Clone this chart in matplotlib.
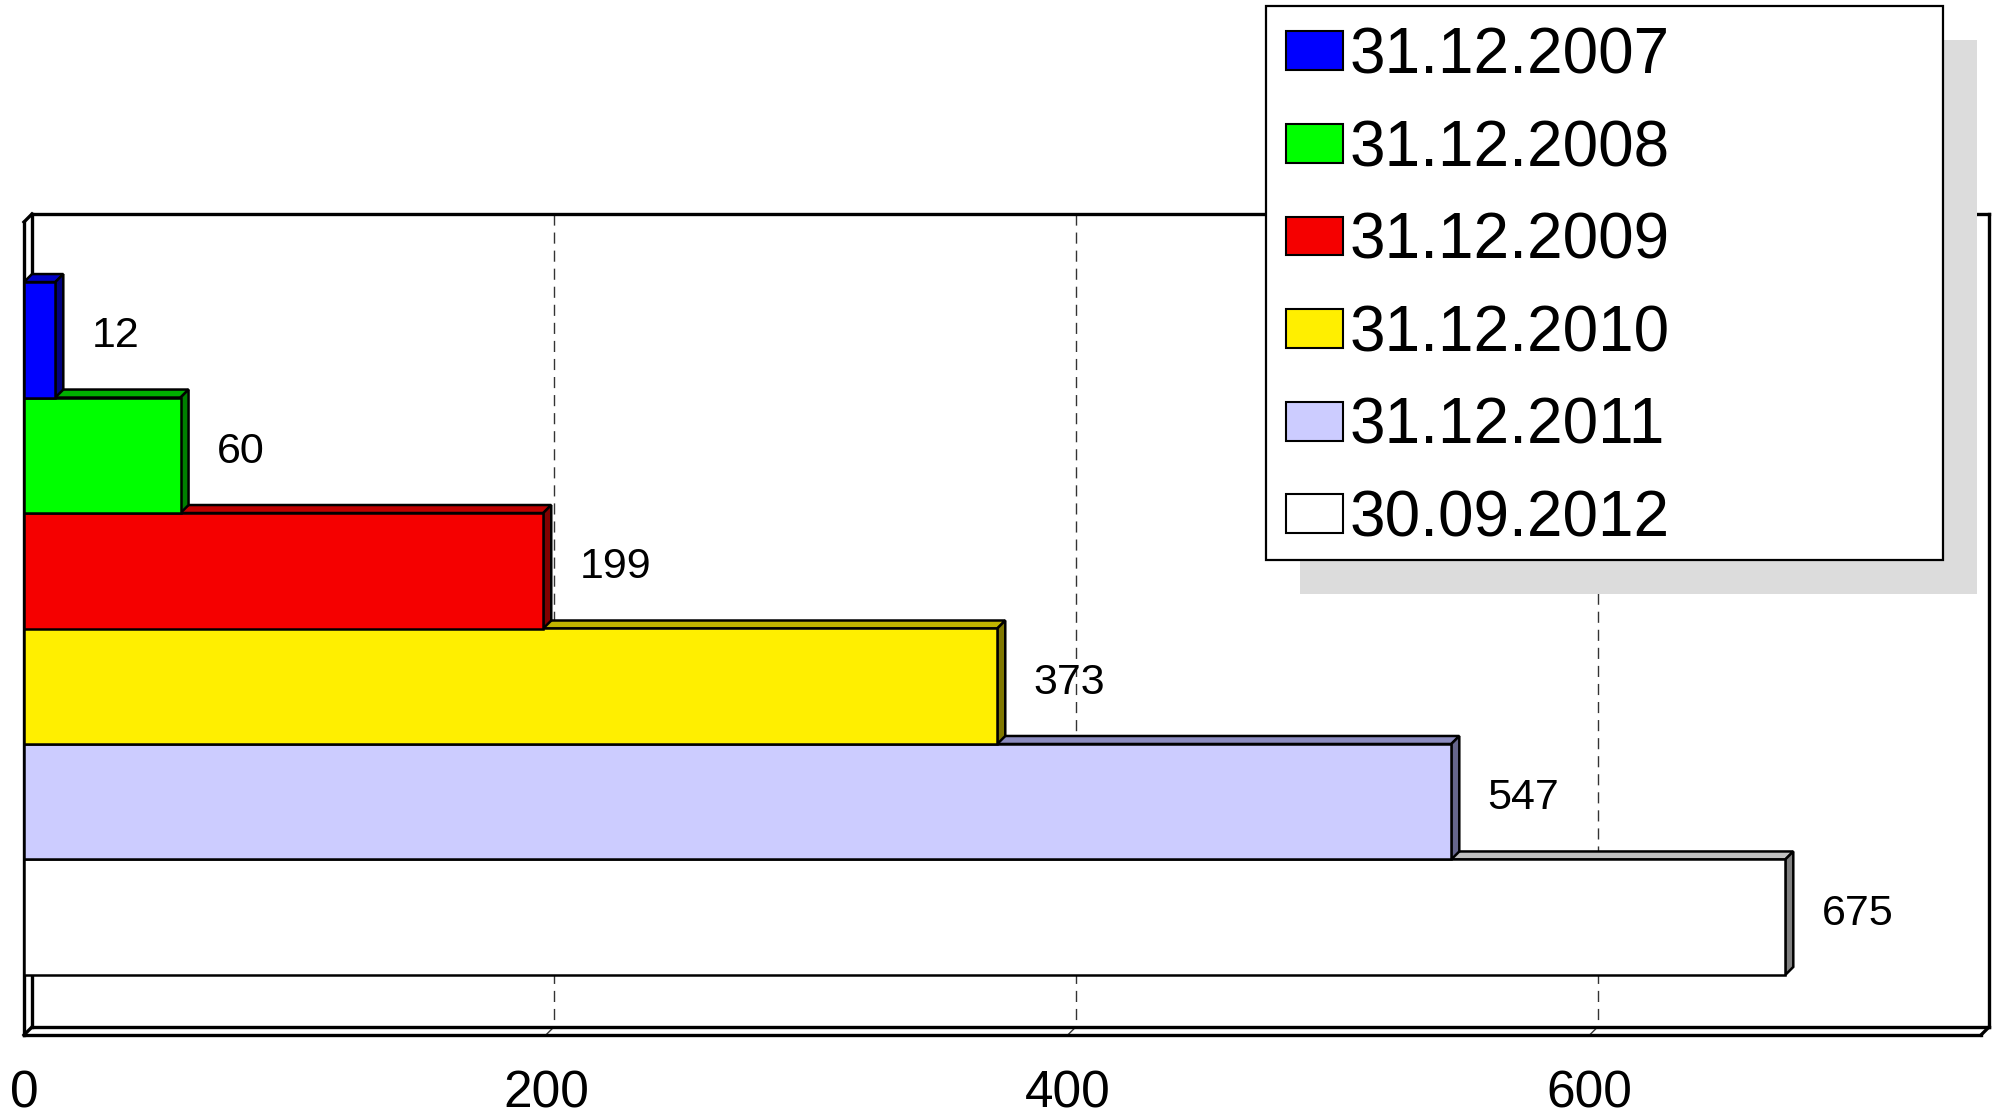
import matplotlib.pyplot as plt
from matplotlib.patches import Polygon, Rectangle, Patch

plt.rcParams['font.family'] = ['Liberation Sans', 'DejaVu Sans']

# Daten
labels = ["31.12.2007", "31.12.2008", "31.12.2009", "31.12.2010", "31.12.2011", "30.09.2012"]
values = [12, 60, 199, 373, 547, 675]
front_colors = ['#0000FF', '#00FF00', '#F50000', '#FFEF00', '#CCCCFF', '#FFFFFF']
top_colors = ['#0000C8', '#00B000', '#C00000', '#C0B400', '#8C8CC0', '#C0C0C0']
side_colors = ['#000080', '#008000', '#800000', '#807800', '#66668C', '#808080']
xticks = [0, 200, 400, 600]
xmax = 750

W, H = 1995, 1116
fig = plt.figure(figsize=(W / 100, H / 100), dpi=100)
ax = fig.add_axes([24 / W, 1 - 1035 / H, 1957 / W, 813 / H])
yt, yb = -1.02, 6.02
ax.set_xlim(0, xmax)
ax.set_ylim(yb, yt)
ax.set_autoscale_on(False)
for s in ax.spines.values():
    s.set_visible(False)
ax.set_yticks([])
ax.set_xticks(xticks)
ax.set_xticklabels([str(t) for t in xticks], fontsize=37)
ax.tick_params(axis='x', length=0, pad=25)

# Tiefe in Datenkoordinaten (8 px nach rechts/oben)
p0 = ax.transData.transform((0, 0))
inv = ax.transData.inverted()
dx, dy = inv.transform(p0 + [8, 8])

frame = dict(color='black', lw=2.4, clip_on=False, zorder=1, solid_capstyle='projecting')
# Rückwand
ax.plot([dx, xmax + dx], [yt + dy, yt + dy], **frame)
ax.plot([xmax + dx, xmax + dx], [yt + dy, yb + dy], **frame)
ax.plot([dx, dx], [yt + dy, yb + dy], **frame)
ax.plot([dx, xmax + dx], [yb + dy, yb + dy], **frame)
# Vorderkanten
ax.plot([0, 0], [yt, yb], **frame)
ax.plot([0, dx], [yt, yt + dy], **frame)
ax.plot([0, xmax], [yb, yb], **frame)
ax.plot([0, dx], [yb, yb + dy], **frame)
ax.plot([xmax, xmax + dx], [yb, yb + dy], **frame)

# Gitterlinien auf der Rückwand
for t in xticks[1:]:
    ax.plot([t + dx, t + dx], [yt + dy, yb + dy], color='#333333', lw=1,
            ls=(0, (8, 5)), clip_on=False, zorder=0.5)
    ax.plot([t, t + dx], [yb, yb + dy], color='#333333', lw=1, clip_on=False, zorder=0.5)

# Balken, von unten nach oben gezeichnet
n = len(values)
for i in reversed(range(n)):
    v = values[i]
    z = 2 + (n - i)
    ytop, ybot = i - 0.5, i + 0.5
    ax.barh(i, v, height=1.0, color=front_colors[i], edgecolor='black', linewidth=1.8, zorder=z + 0.2)
    ax.add_patch(Polygon([(0, ytop), (v, ytop), (v + dx, ytop + dy), (dx, ytop + dy)],
                         closed=True, facecolor=top_colors[i], edgecolor='black', lw=1.8, zorder=z))
    ax.add_patch(Polygon([(v, ytop), (v + dx, ytop + dy), (v + dx, ybot + dy), (v, ybot)],
                         closed=True, facecolor=side_colors[i], edgecolor='black', lw=1.8, zorder=z + 0.1))
    ax.annotate(str(v), (v, i), xytext=(26, 2.5), textcoords='offset points',
                ha='left', va='center', fontsize=31, zorder=20)

# Legende (Rahmen und Schatten separat)
handles = [Patch(facecolor=c, edgecolor='black', linewidth=1.5) for c in front_colors]
leg = fig.legend(handles, labels, loc='upper left', bbox_to_anchor=(1266 / W, 0, 677 / W, 1 - 6 / H),
                 mode='expand', borderaxespad=0, fontsize=46, frameon=False,
                 handlelength=0.88, handleheight=0.56, handletextpad=0.1,
                 labelspacing=0.51, borderpad=0.32)
leg.set_zorder(11)

fig.canvas.draw()
bb = leg.get_window_extent()
box_h = 554
box = Rectangle((bb.x0, bb.y1 - box_h), bb.width, box_h, transform=None,
                facecolor='white', edgecolor='black', linewidth=1.6, zorder=10)
shadow = Rectangle((bb.x0 + 34, bb.y1 - box_h - 34), bb.width, box_h, transform=None,
                   facecolor='#DCDCDC', edgecolor='none', zorder=9)
fig.add_artist(shadow)
fig.add_artist(box)

fig.savefig('out.png', dpi=100)
